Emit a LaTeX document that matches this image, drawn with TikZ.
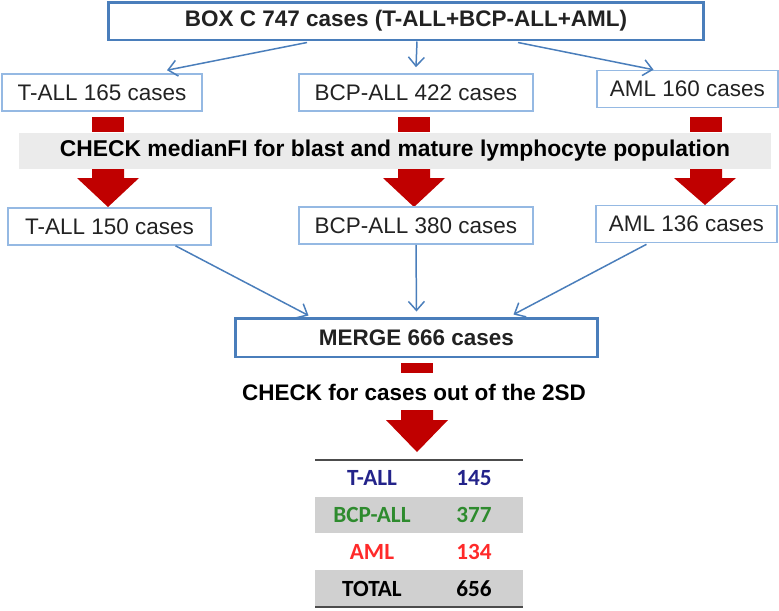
\documentclass[tikz,border=0pt]{standalone}
\usepackage{fontspec}
\setmainfont{Liberation Sans}
\newfontfamily\tabfont{Carlito}
\usetikzlibrary{arrows.meta,calc}
\definecolor{frameblue}{HTML}{4A7EBB}
\definecolor{lightblue}{HTML}{95B9E3}
\definecolor{arrowred}{HTML}{C00000}
\definecolor{bandgray}{HTML}{EBEBEB}
\definecolor{rowgray}{HTML}{D0D0D0}
\definecolor{inkgray}{HTML}{222222}
\definecolor{tallblue}{HTML}{23238A}
\definecolor{bcpgreen}{HTML}{2E8B2E}
\definecolor{amlred}{HTML}{FF2A2A}
\begin{document}
\begin{tikzpicture}[x=0.02cm,y=-0.02cm,
    bigbox/.style={draw=frameblue,line width=1.7pt,inner sep=0pt,minimum height=0.76cm,
      font=\fontsize{12.8}{15}\selectfont\bfseries,text=inkgray},
    smallbox/.style={draw=lightblue,line width=0.9pt,inner sep=0pt,minimum height=0.74cm,
      font=\fontsize{12.8}{15}\selectfont,text=inkgray},
    conn/.style={draw=frameblue,line width=0.85pt,-{Straight Barb[length=0.18cm,width=0.32cm]}},
    redfill/.style={fill=arrowred},
    cell/.style={font=\tabfont\fontsize{13.2}{15}\selectfont\bfseries,inner sep=0pt}]
                \useasboundingbox (0,0) rectangle (779,610);
                % boxes
                \node (top) [bigbox,minimum width=11.92cm] at (406,21) {BOX C 747 cases (T-ALL+BCP-ALL+AML)};
                \node (t1) [smallbox,minimum width=4.0cm] at (102,92.5) {T-ALL 165 cases};
                \node (b1) [smallbox,minimum width=4.68cm] at (416,92.5) {BCP-ALL 422 cases};
                \node (a1) [smallbox,minimum width=3.62cm] at (687.5,89) {AML 160 cases};
                \fill[redfill] (92,117) rectangle (124,132);
                \fill[redfill] (398,117) rectangle (430,132);
                \fill[redfill] (690,117) rectangle (722,132);
                \node (band) [fill=bandgray,inner sep=0pt,minimum width=15.04cm,minimum height=0.72cm,
                  font=\fontsize{13}{15}\selectfont\bfseries,text=black] at (395,151)
                  {CHECK medianFI for blast and mature lymphocyte population};
                \fill[redfill] (92,169) -- (124,169) -- (124,178) -- (139,178) -- (108,207)
                  -- (77,178) -- (92,178) -- cycle;
                \fill[redfill] (398,169) -- (430,169) -- (430,178) -- (445,178) -- (414,207)
                  -- (383,178) -- (398,178) -- cycle;
                \fill[redfill] (690,169) -- (722,169) -- (722,178) -- (736,178) -- (705,205)
                  -- (674,178) -- (690,178) -- cycle;
                \node (t2) [smallbox,minimum width=4.06cm] at (109.5,226.5) {T-ALL 150 cases};
                \node (b2) [smallbox,minimum width=4.68cm] at (416,225.5) {BCP-ALL 380 cases};
                \node (a2) [smallbox,minimum width=3.62cm] at (686.5,224) {AML 136 cases};
                \node (merge) [bigbox,minimum width=7.26cm,minimum height=0.78cm] at (416.5,337.5) {MERGE 666 cases};
                \fill[redfill] (401,363) rectangle (433,373);
                \node (check) [font=\fontsize{12.8}{15}\selectfont\bfseries,text=black] at (414,392)
                  {CHECK for cases out of the 2SD};
                \fill[redfill] (401,410) -- (433,410) -- (433,420) -- (448,420) -- (417,452)
                  -- (386,420) -- (401,420) -- cycle;
                % connectors
                \draw[conn] ($(top.south)+(-99,1)$) -- ($(t1.north)+(65,-3)$);
                \draw[conn] ($(top.south)+(11,0)$) -- ($(b1.north)+(0,-6)$);
                \draw[conn] ($(top.south)+(112,1)$) -- ($(a1.north)+(-34,0)$);
                \draw[conn] ($(t2.south)+(66,0)$) -- ($(merge.north)+(-108,-1)$);
                \draw[conn] (b2.south) -- ($(merge.north)+(0,-5)$);
                \draw[conn] ($(a2.south)+(-40,1)$) -- ($(merge.north)+(97,-2)$);
                % table
                \fill[rowgray] (315,497) rectangle (523,533);
                \fill[rowgray] (315,570) rectangle (523,607);
                \draw[draw=black!70,line width=1.1pt] (315,460) -- (523,460);
                \draw[draw=black!70,line width=1.1pt] (315,607) -- (523,607);
                \node (l1) [cell,text=tallblue] at (372,478) {T-ALL};
                \node (n1) [cell,text=tallblue] at (474,478) {145};
                \node (l2) [cell,text=bcpgreen] at (372,515) {BCP-ALL};
                \node (n2) [cell,text=bcpgreen] at (474,515) {377};
                \node (l3) [cell,text=amlred] at (372,552) {AML};
                \node (n3) [cell,text=amlred] at (474,552) {134};
                \node (l4) [cell,text=black] at (372,589) {TOTAL};
                \node (n4) [cell,text=black] at (474,589) {656};
            \end{tikzpicture}
\end{document}
